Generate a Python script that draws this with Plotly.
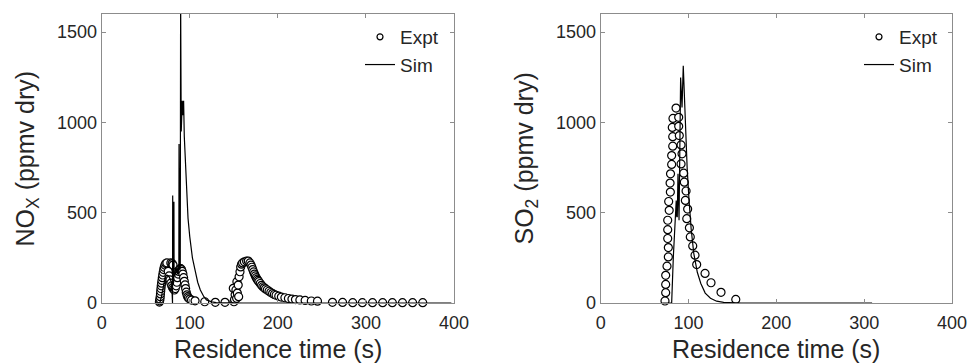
import plotly.graph_objects as go

# ---------------- data ----------------
nox_expt_t = [65.5, 65.8, 66.1, 66.4, 66.7, 67.0, 67.3, 67.6, 68.0, 68.4, 68.8, 69.3, 69.8, 70.4, 71.0,
              71.8, 72.8, 74.0, 78.5, 80.0, 81.0, 75.5, 76.5, 77.5, 78.5, 79.5, 80.5, 81.5, 82.5, 83.5,
              84.5, 85.3, 86.0, 86.8, 87.5, 88.2, 89.0, 89.8, 90.6, 91.4, 92.2, 93.0, 93.8, 94.6, 95.3,
              96.0, 96.8, 97.6, 98.5, 100, 102, 106, 117, 129, 140,
              149.4, 150.2, 150.8, 151.5, 152.4, 153.2, 153.5, 154.0, 155.0, 155.5, 156.0, 157.0, 157.8,
              158.8, 160.0, 162.0, 164.5, 166.4, 168.3, 169.5, 170.5, 171.5, 172.5, 173.5, 174.5, 175.5,
              176.5, 177.5, 178.5, 180.0, 181.5, 183.0, 184.5, 186.0, 188.0, 190.0, 192.0, 194.0, 196.0,
              198.0, 201.0, 204.0, 208.0, 212.0, 216.0, 220.0, 225.0, 231.0, 238.0, 245.0, 262.0, 273.5,
              285.0, 296.0, 307.5, 319.0, 330.0, 341.5, 353.0, 364.5]
nox_expt_v = [5, 12, 22, 35, 50, 65, 80, 95, 110, 125, 140, 155, 170, 185, 198,
              210, 218, 222, 222, 218, 210, 175, 150, 128, 110, 95, 85, 78, 72, 80,
              95, 115, 140, 160, 175, 185, 190, 190, 185, 175, 160, 140, 120, 100, 80,
              60, 45, 35, 28, 22, 16, 12, 7, 4, 4,
              81, 7, 20, 45, 72, 26, 118, 55, 99, 35, 145, 173, 200,
              215, 222, 228, 232, 232, 222, 210, 198, 185, 172, 160, 150, 140,
              132, 125, 118, 108, 98, 90, 84, 78, 72, 65, 58, 52, 47,
              43, 38, 33, 29, 25, 22, 19, 17, 14, 11, 10, 4, 3,
              2, 2, 2, 2, 2, 2, 2, 2]

nox_sim_t = [62, 66, 68, 70, 72, 74, 76, 78, 79.5, 80.4, 80.6, 80.8, 81.2, 81.8, 82.0, 82.2, 83, 84, 85,
             86, 87, 87.6, 87.8, 88.0, 88.6, 89.2, 89.6, 90.3, 91.0, 91.5, 92.2, 93.0, 93.8, 95, 96.5,
             98, 100, 103, 106, 109, 112, 116, 119, 125, 130, 140, 160, 250, 397]
nox_sim_v = [0, 0, 40, 100, 140, 155, 150, 130, 110, 0, 595, 80, 100, 120, 560, 160, 150, 170, 190,
             160, 180, 200, 880, 190, 180, 200, 1700, 950, 1050, 1120, 1040, 1120, 920, 760, 590,
             470, 366, 250, 182, 115, 72, 35, 17, 6, 2, 0, 0, 0, 0]

so2_expt_t = [73.2, 74.0, 74.0, 74.0, 75.5, 77.0, 77.0, 76.3, 76.3, 76.3, 78.0, 77.4, 79.3, 79.0, 79.5,
              80.8, 80.8, 82.0, 82.0, 81.5, 82.3, 85.8, 88.8, 88.8, 89.5, 91.5, 92.6, 91.5, 94.5, 95.2,
              97.2, 96.4, 99.0, 98.0, 101.0, 102.0, 104.8, 107.4, 109.3, 118.8, 125.6, 137.0, 153.8]
so2_expt_v = [11, 57, 103, 153, 204, 255, 307, 357, 406, 458, 513, 562, 614, 664, 715,
              767, 816, 868, 921, 972, 1022, 1079, 1028, 978, 927, 875, 826, 770, 719, 669,
              620, 568, 520, 467, 416, 366, 316, 265, 213, 164, 112, 59, 20]

so2_sim_t = [70, 80.8, 82.7, 84.5, 85.5, 86.0, 86.5, 87.2, 88.0, 88.5, 89.2, 91.0, 92.6, 94.0, 95.5,
             96.8, 98.5, 100.6, 103, 106, 110, 114, 119, 125, 132, 140, 150, 160, 309]
so2_sim_v = [0, 0, 255, 450, 560, 568, 480, 476, 715, 600, 458, 1248, 1083, 1313, 1100,
             936, 740, 568, 410, 274, 170, 108, 55, 26, 10, 4, 1, 0, 0]

x_ticks = [0, 100, 200, 300, 400]
y_ticks = [0, 500, 1000, 1500]

# ---------------- styling ----------------
FONT = "Liberation Sans, Arial, sans-serif"
TXT = "#262626"
AXC = "#8c8c8c"

fig = go.Figure()

def add_panel(t_e, v_e, t_s, v_s, xa, ya, leg):
    fig.add_trace(go.Scatter(x=t_e, y=v_e, mode="markers", xaxis=xa, yaxis=ya,
                             marker=dict(symbol="circle", size=8, color="white",
                                         line=dict(color="black", width=1.2)),
                             cliponaxis=False, showlegend=False))
    fig.add_trace(go.Scatter(x=t_s, y=v_s, mode="lines", xaxis=xa, yaxis=ya,
                             line=dict(color="black", width=1.2), showlegend=False))
    # legend entries
    fig.add_trace(go.Scatter(x=[None], y=[None], mode="markers", xaxis=xa, yaxis=ya, name="Expt",
                             marker=dict(symbol="circle", size=6, color="white",
                                         line=dict(color="black", width=1.2)),
                             legend=leg, legendgroup=leg + "a"))
    fig.add_trace(go.Scatter(x=[None], y=[None], mode="lines", xaxis=xa, yaxis=ya, name="Sim",
                             line=dict(color="black", width=1.2),
                             legend=leg, legendgroup=leg + "b"))

add_panel(nox_expt_t, nox_expt_v, nox_sim_t, nox_sim_v, "x", "y", "legend")
add_panel(so2_expt_t, so2_expt_v, so2_sim_t, so2_sim_v, "x2", "y2", "legend2")

ax_common = dict(showline=True, linecolor=AXC, linewidth=1, mirror="ticks", ticks="inside",
                 ticklen=4, tickcolor=AXC, showgrid=False, zeroline=False, automargin=False,
                 tickfont=dict(family=FONT, size=18, color=TXT))

yd = [1 - 303 / 363, 1 - 14 / 363]
fig.update_layout(
    width=968, height=363, margin=dict(l=0, r=0, t=0, b=0, autoexpand=False),
    paper_bgcolor="white", plot_bgcolor="white",
    xaxis=dict(domain=[101.7 / 968, 454 / 968], range=[0, 400], tickvals=x_ticks, anchor="y",
               ticklabelstandoff=3, **ax_common),
    yaxis=dict(domain=yd, range=[0, 1600], tickvals=y_ticks, anchor="x", **ax_common),
    xaxis2=dict(domain=[600.7 / 968, 952 / 968], range=[0, 400], tickvals=x_ticks, anchor="y2",
                ticklabelstandoff=3, **ax_common),
    yaxis2=dict(domain=yd, range=[0, 1600], tickvals=y_ticks, anchor="x2", **ax_common),
    legend=dict(x=360 / 968, y=1 - 18 / 363, xanchor="left", yanchor="top", bgcolor="rgba(0,0,0,0)",
                font=dict(family=FONT, size=19, color=TXT), tracegroupgap=0),
    legend2=dict(x=859 / 968, y=1 - 18 / 363, xanchor="left", yanchor="top", bgcolor="rgba(0,0,0,0)",
                 font=dict(family=FONT, size=19, color=TXT), tracegroupgap=0),
    showlegend=True,
)

ann_font = dict(family=FONT, size=25, color=TXT)
ymid = (yd[0] + yd[1]) / 2
fig.add_annotation(text="Residence time (s)", xref="paper", yref="paper", x=(101.7 + 454) / 2 / 968,
                   y=1 - 349 / 363, xanchor="center", yanchor="middle", showarrow=False, font=ann_font)
fig.add_annotation(text="Residence time (s)", xref="paper", yref="paper", x=(600.7 + 952) / 2 / 968,
                   y=1 - 349 / 363, xanchor="center", yanchor="middle", showarrow=False, font=ann_font)
fig.add_annotation(text="NO<sub>X</sub> (ppmv dry)", xref="paper", yref="paper", x=27 / 968, y=ymid,
                   textangle=-90, xanchor="center", yanchor="middle", showarrow=False, font=ann_font)
fig.add_annotation(text="SO<sub>2</sub> (ppmv dry)", xref="paper", yref="paper", x=526 / 968, y=ymid,
                   textangle=-90, xanchor="center", yanchor="middle", showarrow=False, font=ann_font)

fig.write_html("out.html")
